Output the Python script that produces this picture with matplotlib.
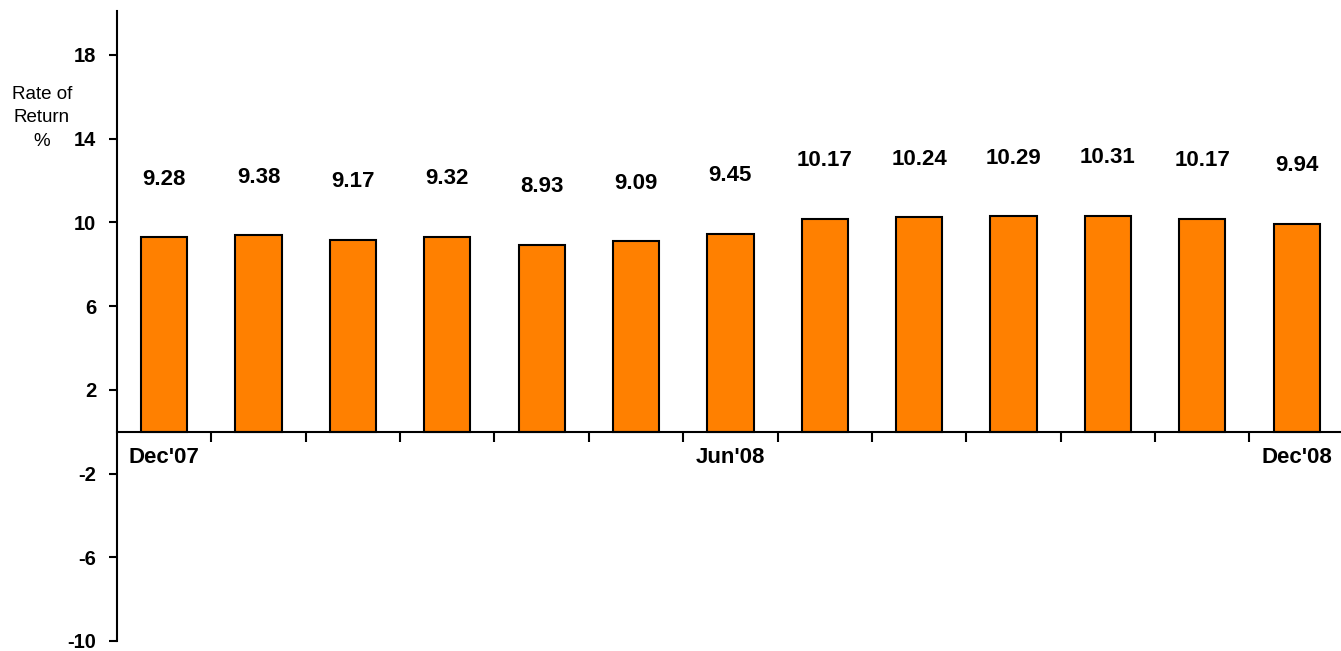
import numpy as np
import matplotlib.pyplot as plt

# Data
months = ['Dec\'07', 'Jan\'08', 'Feb\'08', 'Mar\'08', 'Apr\'08', 'May\'08', 'Jun\'08',
          'Jul\'08', 'Aug\'08', 'Sep\'08', 'Oct\'08', 'Nov\'08', 'Dec\'08']
returns = [9.28, 9.38, 9.17, 9.32, 8.93, 9.09, 9.45, 10.17, 10.24, 10.29, 10.31, 10.17, 9.94]
shown_labels = [0, 6, 12]
yticks = [-10, -6, -2, 2, 6, 10, 14, 18]

plt.rcParams['font.family'] = ['Liberation Sans', 'DejaVu Sans']

W, H = 1341, 651
fig = plt.figure(figsize=(W / 100, H / 100), dpi=100)
ax = fig.add_axes([117 / W, 10 / H, (W - 117) / W, (642 - 12) / H])

x = np.arange(len(months))
ax.bar(x, returns, width=0.49, color='#FF8000', edgecolor='black', linewidth=1.5, zorder=2)

# value labels above bars
for xi, v in zip(x, returns):
    ax.text(xi, v + 2.78, '%.2f' % v, ha='center', va='center',
            fontsize=16, fontweight='bold', color='black')

ax.set_xlim(-0.5, 12.47)
ax.set_ylim(-10, 20.1)

# spines
for s in ['top', 'right']:
    ax.spines[s].set_visible(False)
ax.spines['bottom'].set_position(('data', 0))
ax.spines['bottom'].set_linewidth(1.5)
ax.spines['left'].set_linewidth(1.5)

# y axis
ax.set_yticks(yticks)
ax.set_yticklabels([str(t) for t in yticks], fontsize=14.5, fontweight='bold')
ax.tick_params(axis='y', direction='out', length=6, width=1.5, pad=9)

# x axis: labels under selected bars, ticks at category boundaries
ax.set_xticks(shown_labels)
ax.set_xticklabels([months[i] for i in shown_labels], fontsize=16, fontweight='bold')
ax.set_xticks(np.arange(0.5, 12, 1), minor=True)
ax.tick_params(axis='x', which='major', length=0, pad=11)
ax.tick_params(axis='x', which='minor', direction='out', length=7, width=1.5)

# y axis title
fig.text(42 / W, 1 - 118 / H, 'Rate of\nReturn\n%', ha='center', va='center',
         fontsize=13.5, linespacing=1.5)

fig.savefig('out.png', dpi=100)
